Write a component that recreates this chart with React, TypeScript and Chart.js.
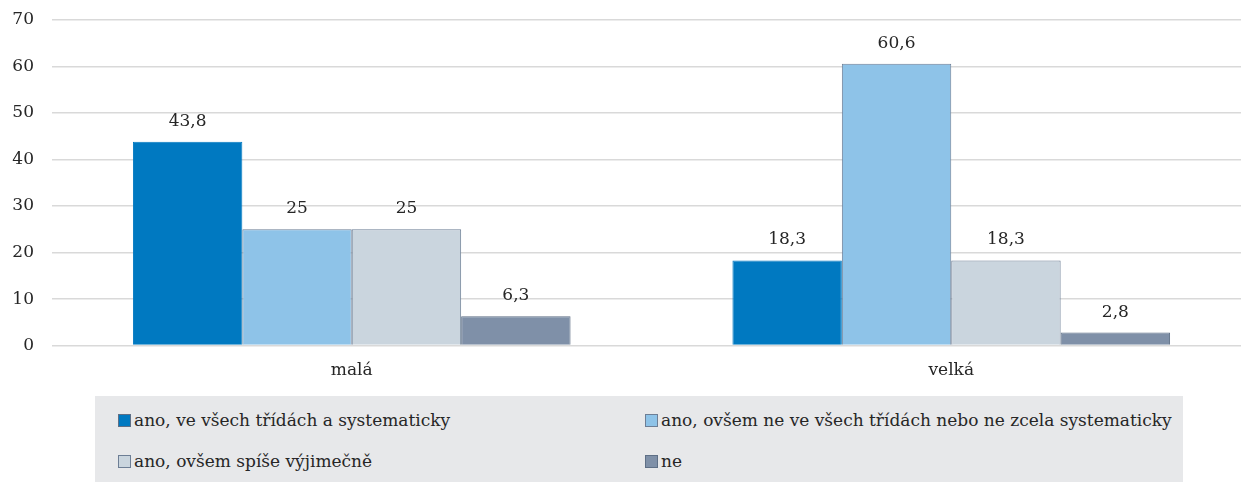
import React, { useEffect, useRef } from "react";
import { Chart, registerables } from "chart.js";

Chart.register(...registerables);

const categories = ["malá", "velká"];
const seriesNames = [
  "ano, ve všech třídách a systematicky",
  "ano, ovšem ne ve všech třídách nebo ne zcela systematicky",
  "ano, ovšem spíše výjimečně",
  "ne",
];
const seriesA = [43.8, 18.3];
const seriesB = [25, 60.6];
const seriesC = [25, 18.3];
const seriesD = [6.3, 2.8];
const yTicks = [0, 10, 20, 30, 40, 50, 60, 70];

const colors = ["#0079C1", "#8EC3E8", "#CAD5DE", "#7F90A8"];
const borders = ["#0079C1", "#6D7E95", "#6D7E95", "#5E6F86"];
const FONT = "'DejaVu Serif', serif";
const FS = 17;

const valueLabels = {
  id: "valueLabels",
  afterDatasetsDraw(chart: any) {
    const ctx = chart.ctx;
    ctx.save();
    ctx.font = `${FS}px ${FONT}`;
    ctx.fillStyle = "#262626";
    ctx.textAlign = "center";
    ctx.textBaseline = "alphabetic";
    chart.data.datasets.forEach((ds: any, i: number) => {
      const meta = chart.getDatasetMeta(i);
      meta.data.forEach((bar: any, j: number) => {
        const v = ds.data[j];
        const txt = String(v).replace(".", ",");
        ctx.fillText(txt, bar.x, bar.y - 16);
      });
    });
    ctx.restore();
  },
};

export default function App() {
  const ref = useRef<HTMLCanvasElement>(null);
  useEffect(() => {
    if (!ref.current) return;
    const all = [seriesA, seriesB, seriesC, seriesD];
    const chart = new Chart(ref.current, {
      type: "bar",
      data: {
        labels: categories,
        datasets: all.map((d, i) => ({
          label: seriesNames[i],
          data: d,
          backgroundColor: colors[i],
          borderColor: borders[i],
          borderWidth: 1,
          categoryPercentage: 0.73,
          barPercentage: 1.0,
        })),
      },
      options: {
        animation: false,
        responsive: false,
        maintainAspectRatio: false,
        layout: { padding: { top: 20, bottom: 12, left: 0, right: 0 } },
        plugins: {
          legend: { display: false },
          tooltip: { enabled: false },
        },
        scales: {
          x: {
            grid: { display: false, drawTicks: false },
            border: { display: false },
            ticks: {
              font: { family: FONT, size: FS },
              color: "#262626",
              padding: 15,
            },
          },
          y: {
            min: 0,
            max: 70,
            afterBuildTicks: (scale: any) => {
              scale.ticks = yTicks.map((v) => ({ value: v }));
            },
            afterFit: (scale: any) => {
              scale.width = 52;
              scale.paddingTop = 0;
            },
            grid: { color: "#D9D9D9", lineWidth: 1.5, drawTicks: false },
            border: { display: false },
            ticks: {
              font: { family: FONT, size: FS },
              color: "#262626",
              padding: 18,
            },
          },
        },
      },
      plugins: [valueLabels],
    });
    return () => chart.destroy();
  }, []);

  return (
    <div
      style={{
        position: "absolute",
        left: 0,
        top: 0,
        width: 1241,
        height: 482,
        overflow: "hidden",
        background: "#fff",
      }}
    >
      <canvas ref={ref} width={1251} height={408} style={{ display: "block", width: 1251, height: 408 }} />
      <div
        style={{
          position: "absolute",
          left: 95,
          top: 396,
          width: 1088,
          height: 86,
          background: "#E7E8EA",
          fontFamily: FONT,
          fontSize: FS,
          color: "#262626",
        }}
      >
        {seriesNames.map((name, i) => (
          <div
            key={name}
            style={{
              position: "absolute",
              left: i % 2 === 0 ? 23 : 550,
              top: i < 2 ? 13 : 54,
              display: "flex",
              alignItems: "center",
              whiteSpace: "nowrap",
              lineHeight: "22px",
            }}
          >
            <span
              style={{
                display: "inline-block",
                width: 11,
                height: 11,
                background: colors[i],
                border: `1px solid ${borders[i] === colors[i] ? "#5E6F86" : borders[i]}`,
                marginRight: 3,
              }}
            />
            <span>{name}</span>
          </div>
        ))}
      </div>
    </div>
  );
}
